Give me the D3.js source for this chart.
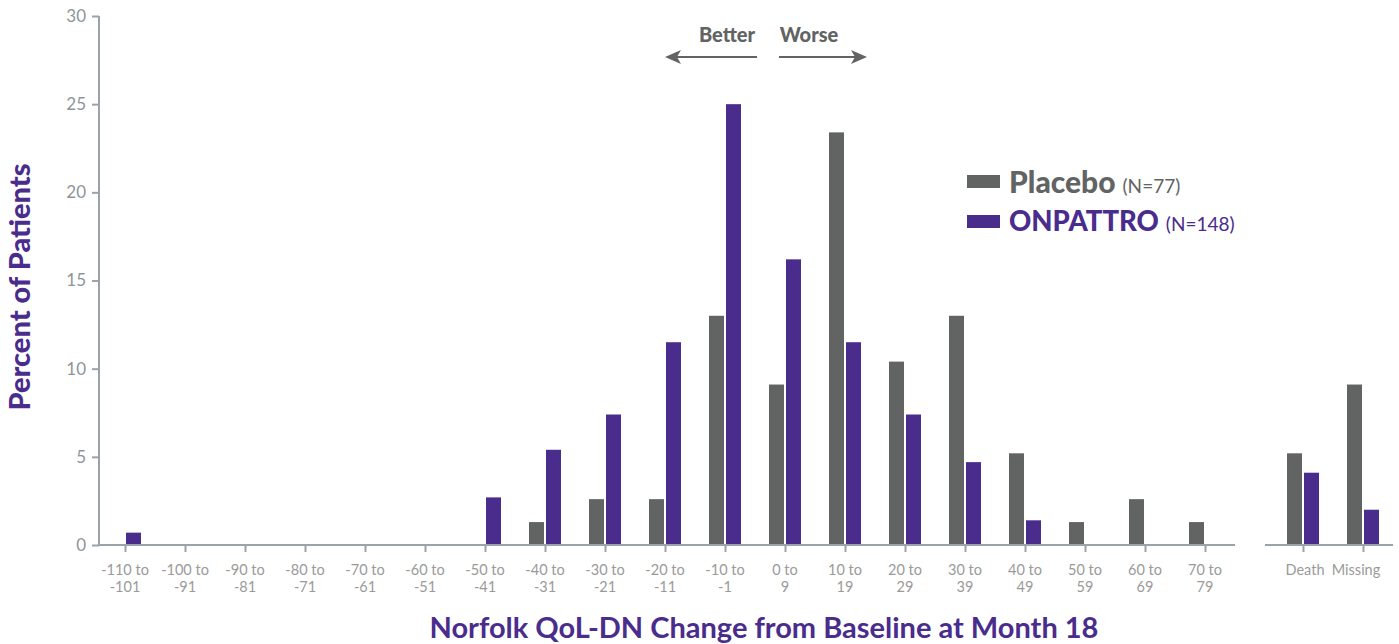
<!DOCTYPE html>
<html><head><meta charset="utf-8">
<script src="https://cdn.jsdelivr.net/npm/d3@7"></script>
<style>body{margin:0;background:#fff}svg{display:block}</style>
</head><body>
<svg id="c" width="1399" height="644"></svg>
<script>
const categories = ["-110 to\n-101","-100 to\n-91","-90 to\n-81","-80 to\n-71","-70 to\n-61","-60 to\n-51","-50 to\n-41","-40 to\n-31","-30 to\n-21","-20 to\n-11","-10 to\n-1","0 to\n9","10 to\n19","20 to\n29","30 to\n39","40 to\n49","50 to\n59","60 to\n69","70 to\n79"];
const placebo =  [0,0,0,0,0,0,0,1.3,2.6,2.6,13.0,9.1,23.4,10.4,13.0,5.2,1.3,2.6,1.3];
const onpattro = [0.7,0,0,0,0,0,2.7,5.4,7.4,11.5,25.0,16.2,11.5,7.4,4.7,1.4,0,0,0];
const extraCategories = ["Death","Missing"];
const extraPlacebo = [5.2,9.1];
const extraOnpattro = [4.1,2.0];
const yTicks = [0,5,10,15,20,25,30];
const seriesNames = ["Placebo","ONPATTRO"];
const seriesN = ["(N=77)","(N=148)"];

const GRAY="#626363", PURPLE="#4a2c8c", AXIS="#9ba3a8", TICKTXT="#8e9599";
const svg=d3.select("#c");
const font="Lato, 'Source Sans Pro', sans-serif";

const y=d3.scaleLinear().domain([0,30]).range([545,16]);
const x=d3.scalePoint().domain(categories).range([125,1205]);
const x2=d3.scalePoint().domain(extraCategories).range([1303,1363]);
const bw=15, gap=1;

// y axis
const ya=svg.append("g").attr("transform","translate(99,0)")
  .call(d3.axisLeft(y).tickValues(yTicks).tickSize(7).tickPadding(6));
ya.select(".domain").attr("stroke",AXIS).attr("stroke-width",2).attr("d","M0,16V545");
ya.selectAll(".tick line").attr("stroke",AXIS).attr("stroke-width",2);
ya.selectAll(".tick text").attr("fill",TICKTXT).style("font-family",font).style("font-size","17px");

// x axes
function xAxis(scale, x0, x1){
  const g=svg.append("g").attr("transform","translate(0,545)")
    .call(d3.axisBottom(scale).tickSize(7).tickFormat(""));
  g.select(".domain").attr("stroke",AXIS).attr("stroke-width",2).attr("d",`M${x0},0H${x1}`);
  g.selectAll(".tick line").attr("stroke",AXIS).attr("stroke-width",2);
  g.selectAll(".tick text").remove();
  return g;
}
xAxis(x,99,1235);
xAxis(x2,1265,1393);

// x tick labels
const lab=svg.append("g").style("font-family",font).style("font-size","14.5px").attr("fill","#9a9a9a").attr("text-anchor","middle");
categories.forEach(c=>{
  const t=lab.append("text").attr("x",x(c)).attr("y",575);
  c.split("\n").forEach((s,i)=>t.append("tspan").attr("x",x(c)).attr("dy",i?17:0).text(s));
});
lab.append("text").attr("x",x2("Death")+2).attr("y",575).text("Death");
lab.append("text").attr("x",x2("Missing")-7).attr("y",575).text("Missing");

// bars
function bars(scale, cats, vals, color, left){
  svg.append("g").selectAll("rect").data(cats.map((c,i)=>({c,v:vals[i]})).filter(d=>d.v>0))
    .join("rect")
    .attr("x",d=>left? scale(d.c)-gap-bw : scale(d.c)+gap)
    .attr("width",bw)
    .attr("y",d=>y(d.v)).attr("height",d=>y(0)-y(d.v)-1)
    .attr("fill",color);
}
bars(x,categories,placebo,GRAY,true);
bars(x,categories,onpattro,PURPLE,false);
bars(x2,extraCategories,extraPlacebo,GRAY,true);
bars(x2,extraCategories,extraOnpattro,PURPLE,false);

// axis titles
svg.append("text").attr("transform","translate(30,287) rotate(-90)").attr("text-anchor","middle")
  .style("font-family",font).style("font-weight","900").style("font-size","29px").attr("fill",PURPLE).text("Percent of Patients");
svg.append("text").attr("x",764).attr("y",638).attr("text-anchor","middle")
  .style("font-family",font).style("font-weight","700").style("font-size","29px").attr("fill",PURPLE).text("Norfolk QoL-DN Change from Baseline at Month 18");

// better/worse
svg.append("text").attr("x",727).attr("y",42).attr("text-anchor","middle").style("font-family",font).style("font-weight","900").style("font-size","20px").attr("fill",GRAY).text("Better");
svg.append("text").attr("x",809).attr("y",42).attr("text-anchor","middle").style("font-family",font).style("font-weight","900").style("font-size","20px").attr("fill",GRAY).text("Worse");
svg.append("line").attr("x1",757).attr("x2",676).attr("y1",57).attr("y2",57).attr("stroke",GRAY).attr("stroke-width",2);
svg.append("path").attr("d","M665,57L681,50L677,57L681,64Z").attr("fill",GRAY);
svg.append("line").attr("x1",779).attr("x2",857).attr("y1",57).attr("y2",57).attr("stroke",GRAY).attr("stroke-width",2);
svg.append("path").attr("d","M867,57L851,50L855,57L851,64Z").attr("fill",GRAY);

// legend
const lg=svg.append("g").style("font-family",font);
[[GRAY,175,193,30],[PURPLE,215,231,27.5]].forEach((r,i)=>{
  lg.append("rect").attr("x",967).attr("y",r[1]).attr("width",33).attr("height",13).attr("fill",r[0]);
  const t=lg.append("text").attr("x",1009).attr("y",r[2]).attr("fill",r[0]);
  t.append("tspan").style("font-weight","900").style("font-size",r[3]+"px").text(seriesNames[i]);
  t.append("tspan").style("font-size","19px").attr("dx",7).text(seriesN[i]);
});
</script>
</body></html>
